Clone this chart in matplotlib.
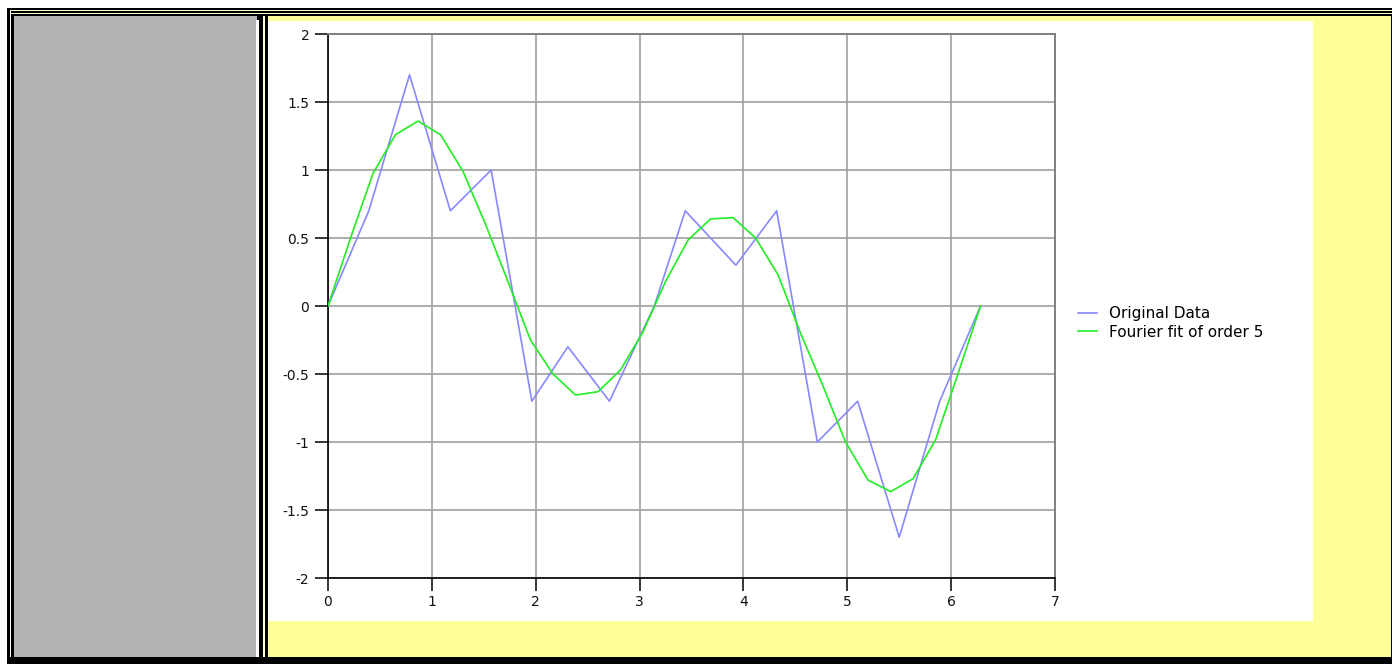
import matplotlib
matplotlib.use("Agg")
import matplotlib.pyplot as plt
from matplotlib.patches import Rectangle

# ---- data ----
orig_x = [0.0, 0.393, 0.785, 1.178, 1.571, 1.963, 2.31, 2.71, 3.142, 3.44,
          3.927, 4.32, 4.712, 5.10, 5.50, 5.89, 6.283]
orig_y = [0.0, 0.7, 1.7, 0.7, 1.0, -0.7, -0.3, -0.7, 0.0, 0.7,
          0.3, 0.7, -1.0, -0.7, -1.7, -0.7, 0.0]

fit_x = [0.0, 0.217, 0.433, 0.650, 0.867, 1.083, 1.300, 1.517, 1.733, 1.950,
         2.167, 2.383, 2.600, 2.817, 3.033, 3.250, 3.467, 3.683, 3.900, 4.117,
         4.333, 4.550, 4.767, 4.983, 5.200, 5.417, 5.633, 5.850, 6.067, 6.283]
fit_y = [0.0, 0.50, 0.975, 1.26, 1.36, 1.26, 0.99, 0.60, 0.18, -0.25,
         -0.50, -0.655, -0.63, -0.47, -0.19, 0.18, 0.485, 0.64, 0.65, 0.50,
         0.23, -0.20, -0.59, -1.0, -1.28, -1.365, -1.27, -0.985, -0.495, 0.0]

series_labels = ["Original Data", "Fourier fit of order 5"]
x_ticks = [0, 1, 2, 3, 4, 5, 6, 7]
x_tick_labels = ["0", "1", "2", "3", "4", "5", "6", "7"]
y_ticks = [-2, -1.5, -1, -0.5, 0, 0.5, 1, 1.5, 2]
y_tick_labels = ["-2", "-1.5", "-1", "-0.5", "0", "0.5", "1", "1.5", "2"]

W, H = 1392, 664
fig = plt.figure(figsize=(W / 100, H / 100), dpi=100, facecolor="white")

# ---- page background (pixel coordinates) ----
bg = fig.add_axes([0, 0, 1, 1])
bg.set_xlim(0, W)
bg.set_ylim(H, 0)
bg.axis("off")
bg.set_zorder(-10)

def rect(x0, y0, x1, y1, c):
    bg.add_patch(Rectangle((x0, y0), x1 - x0, y1 - y0, facecolor=c,
                           edgecolor="none", linewidth=0))

yellow = "#ffff99"
rect(7, 8, W, H, "black")
rect(10, 10, W, 11, "#ffffcc")
rect(10, 12.5, W, 14, "#ffffcc")
rect(10, 10, 11, 657, "white")
rect(14, 16, 257, 657, "#b3b3b3")
rect(256, 20, 259, 657, "white")
rect(263, 16, 265, 657, "#ffffcc")
rect(268, 16, 1391, 657, yellow)
rect(268, 21, 1313, 621, "white")

# ---- chart axes ----
left, right, top, bottom = 328, 1055, 34, 578
ax = fig.add_axes([left / W, 1 - bottom / H, (right - left) / W, (bottom - top) / H])
ax.set_facecolor("white")

ax.plot(orig_x, orig_y, color="#8888ff", lw=1.2, label=series_labels[0], zorder=3)
ax.plot(fit_x, fit_y, color="#22ee22", lw=1.2, label=series_labels[1], zorder=4)

ax.set_xlim(0, 7)
ax.set_ylim(-2, 2)
ax.set_xticks(x_ticks)
ax.set_xticklabels(x_tick_labels)
ax.set_yticks(y_ticks)
ax.set_yticklabels(y_tick_labels)
ax.grid(True, color="#a0a0a0", lw=1.2)
ax.set_axisbelow(True)

for s in ["left", "bottom"]:
    ax.spines[s].set_color("black")
    ax.spines[s].set_linewidth(1.2)
for s in ["top", "right"]:
    ax.spines[s].set_color("#808080")
    ax.spines[s].set_linewidth(1.4)

ax.tick_params(axis="both", direction="out", length=9.5, width=1.1,
               color="black", labelsize=10, labelcolor="#111111")
ax.tick_params(axis="y", pad=4)
ax.tick_params(axis="x", pad=3)

fig.legend(loc="center left", bbox_to_anchor=(1078 / W, 1 - 323 / H),
           bbox_transform=fig.transFigure, frameon=False, fontsize=11,
           handlelength=1.25, handletextpad=0.78, labelspacing=0.2,
           borderpad=0, borderaxespad=0)

fig.savefig("out.png", dpi=100, facecolor="white")
